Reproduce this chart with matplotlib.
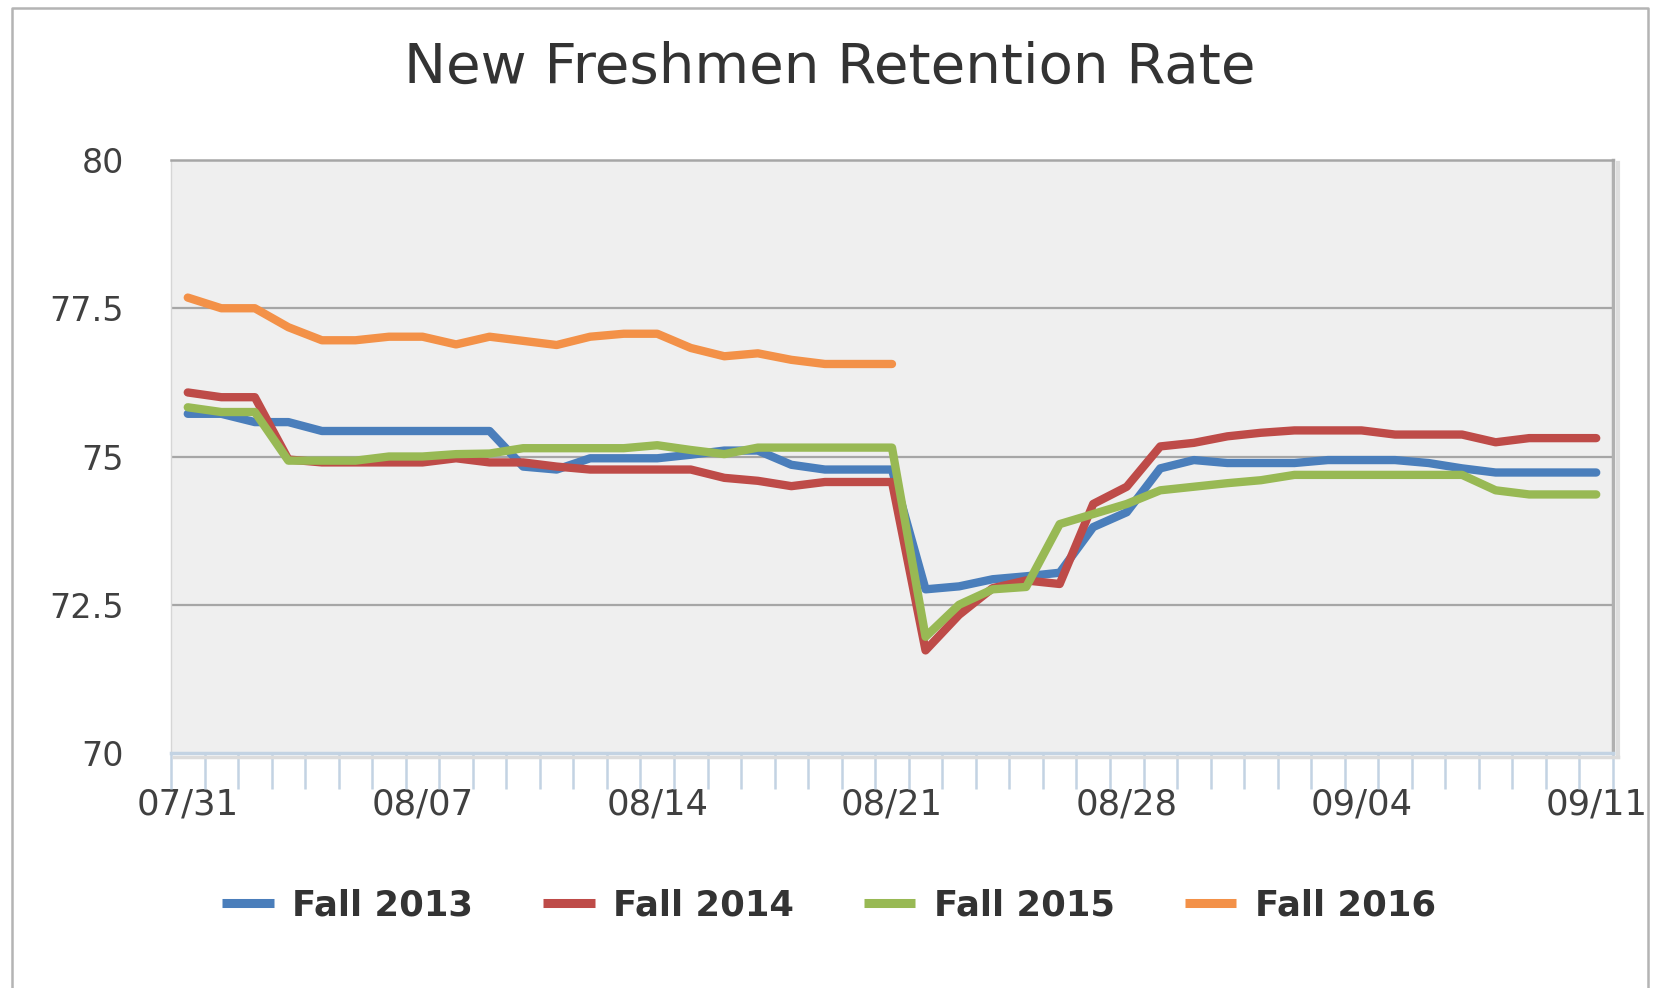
import numpy as np
import pandas as pd
import matplotlib
matplotlib.use("Agg")
import matplotlib.pyplot as plt
from matplotlib.lines import Line2D

# daily categories 07/31 .. 09/11
dates = pd.date_range("2016-07-31", "2016-09-11", freq="D")
tick_labels = [d.strftime("%m/%d") for d in dates[::7]]

fall_2013 = [75.72, 75.72, 75.58, 75.58, 75.43, 75.43, 75.43, 75.43, 75.43, 75.43, 74.83,
             74.78, 74.97, 74.97, 74.97, 75.03, 75.10, 75.10, 74.86, 74.78, 74.78, 74.78,
             72.76, 72.81, 72.93, 72.98, 73.04, 73.81, 74.06, 74.80, 74.94, 74.89, 74.89,
             74.89, 74.94, 74.94, 74.94, 74.89, 74.80, 74.73, 74.73, 74.73, 74.73]
fall_2014 = [76.08, 76.00, 76.00, 74.95, 74.90, 74.90, 74.90, 74.90, 74.97, 74.90, 74.90,
             74.83, 74.78, 74.78, 74.78, 74.78, 74.64, 74.59, 74.50, 74.57, 74.57, 74.57,
             71.73, 72.33, 72.78, 72.91, 72.85, 74.20, 74.49, 75.17, 75.23, 75.34, 75.40,
             75.44, 75.44, 75.44, 75.37, 75.37, 75.37, 75.24, 75.31, 75.31, 75.31]
fall_2015 = [75.83, 75.75, 75.75, 74.93, 74.93, 74.93, 75.00, 75.00, 75.04, 75.05, 75.14,
             75.14, 75.14, 75.14, 75.19, 75.11, 75.04, 75.15, 75.15, 75.15, 75.15, 75.15,
             71.96, 72.50, 72.76, 72.80, 73.86, 74.03, 74.20, 74.43, 74.49, 74.55, 74.60,
             74.69, 74.69, 74.69, 74.69, 74.69, 74.69, 74.43, 74.36, 74.36, 74.36]
fall_2016 = [77.68, 77.50, 77.50, 77.18, 76.96, 76.96, 77.02, 77.02, 76.89, 77.02, 76.95,
             76.88, 77.02, 77.07, 77.07, 76.83, 76.69, 76.74, 76.63, 76.56, 76.56, 76.56]

series = [("Fall 2013", fall_2013, "#4a7ebb"),
          ("Fall 2014", fall_2014, "#be4b48"),
          ("Fall 2015", fall_2015, "#98b954"),
          ("Fall 2016", fall_2016, "#f39148")]

yticks = [70, 72.5, 75, 77.5, 80]
ytick_labels = ["70", "72.5", "75", "77.5", "80"]

W, H = 1653, 988
fig = plt.figure(figsize=(W / 100, H / 100), dpi=100)
fig.patch.set_facecolor("white")

# outer frame (open at the bottom)
fig.add_artist(Line2D([12 / W, 12 / W, 1648 / W, 1648 / W], [0, 1 - 8 / H, 1 - 8 / H, 0],
                      transform=fig.transFigure, color="#b4b4b4", lw=1.8))

ax = fig.add_axes([171 / W, 1 - 753 / H, (1613 - 171) / W, (753 - 160) / H])
ax.set_facecolor("#efefef")

x = np.arange(len(dates))
for name, vals, col in series:
    ax.plot(x[:len(vals)], vals, color=col, lw=6, solid_capstyle="round",
            solid_joinstyle="round", label=name, zorder=3)

ax.set_xlim(-0.5, len(dates) - 0.5)
ax.set_ylim(70, 80)

# gridlines
for yv in yticks[1:-1]:
    ax.axhline(yv, color="#a6a6a6", lw=1.6, zorder=1)

ax.set_yticks(yticks)
ax.set_yticklabels(ytick_labels)
ax.tick_params(axis="y", length=0, pad=34, labelsize=24, labelcolor="#404040")

ax.set_xticks(x[::7])
ax.set_xticklabels(tick_labels)
ax.set_xticks(np.arange(-0.5, len(dates)), minor=True)
ax.tick_params(axis="x", which="major", length=0, pad=25, labelsize=25.5, labelcolor="#404040")
ax.tick_params(axis="x", which="minor", length=26, width=1.8, color="#c3d3e3")

ax.spines["top"].set_color("#a6a6a6")
ax.spines["top"].set_linewidth(1.8)
ax.spines["left"].set_color("#d6d6d6")
ax.spines["left"].set_linewidth(1.0)
ax.spines["right"].set_color("#b0b0b0")
ax.spines["right"].set_linewidth(2.5)
ax.spines["bottom"].set_color("#c3d3e3")
ax.spines["bottom"].set_linewidth(2.5)

# soft shadows on right and bottom edges
fig.add_artist(Line2D([1618 / W, 1618 / W], [1 - 163 / H, 1 - 757 / H],
                      transform=fig.transFigure, color="#dedede", lw=3))
fig.add_artist(Line2D([174 / W, 1618 / W], [1 - 757 / H, 1 - 757 / H],
                      transform=fig.transFigure, color="#dcdcdc", lw=2.5))

fig.text(0.502, 0.931, "New Freshmen Retention Rate", ha="center", va="center",
         fontsize=40.5, color="#333333")

handles = [Line2D([], [], color=c, lw=6.5, solid_capstyle="butt") for _, _, c in series]
fig.legend(handles, [s[0] for s in series], loc="center", bbox_to_anchor=(0.5015, 0.084),
           ncol=4, frameon=False, handlelength=1.46, handletextpad=0.52,
           columnspacing=1.97, prop={"weight": "bold", "size": 25.5},
           labelcolor="#333333")

fig.savefig("out.png", dpi=100)
